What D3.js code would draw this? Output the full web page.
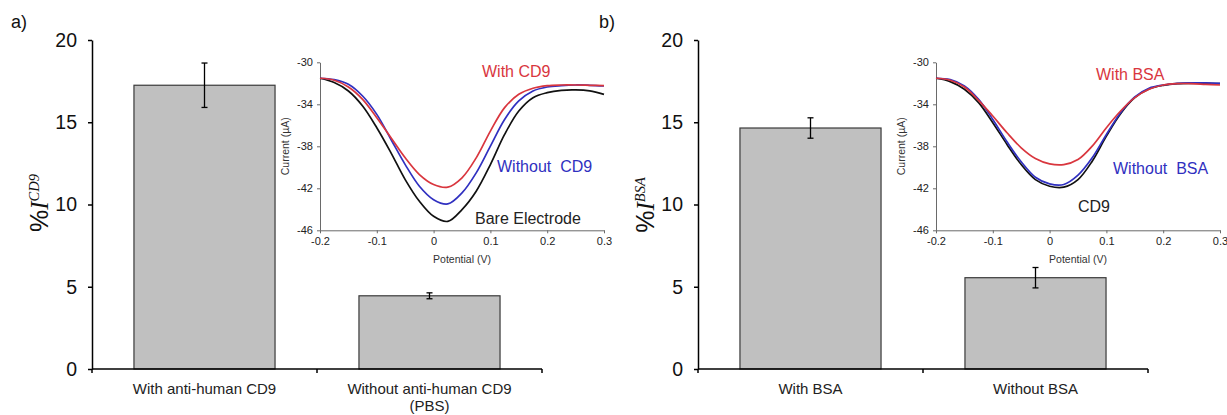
<!DOCTYPE html>
<html><head><meta charset="utf-8">
<script src="https://cdn.jsdelivr.net/npm/d3@7"></script>
<style>
body{margin:0;background:#fff}
svg{display:block}
</style></head><body>
<svg id="c" width="1227" height="415" font-family="Arial, 'Liberation Sans', sans-serif"></svg>
<script>
// ---------- data ----------
const potential   = [-0.2,-0.175,-0.15,-0.125,-0.1,-0.075,-0.05,-0.025,0,0.025,0.05,0.075,0.1,0.125,0.15,0.175,0.2,0.225,0.25,0.275,0.3];
// panel a inset (current, uA)
const bareElectrode = [-31.52,-31.93,-32.73,-34.16,-36.23,-38.62,-41.17,-43.24,-44.67,-45.15,-44.03,-42.28,-39.74,-36.87,-34.64,-33.37,-32.89,-32.67,-32.63,-32.73,-33.05];
const withCD9       = [-31.52,-31.71,-32.35,-33.53,-35.28,-37.19,-39.10,-40.69,-41.64,-41.89,-41.00,-39.10,-36.55,-34.32,-33.05,-32.47,-32.22,-32.16,-32.16,-32.19,-32.22];
const withoutCD9    = [-31.52,-31.65,-32.09,-33.21,-34.96,-37.35,-39.74,-41.80,-43.08,-43.49,-42.44,-40.53,-37.98,-35.44,-33.68,-32.73,-32.35,-32.22,-32.16,-32.19,-32.25];
// panel b inset
const cd9Only       = [-31.52,-31.84,-32.57,-33.84,-35.75,-37.82,-39.74,-41.17,-41.80,-41.89,-41.17,-39.42,-37.03,-34.89,-33.37,-32.54,-32.19,-32.03,-32.00,-32.00,-32.03];
const withBSA       = [-31.52,-31.71,-32.35,-33.62,-35.12,-36.71,-38.14,-39.16,-39.67,-39.74,-39.26,-37.98,-36.23,-34.64,-33.37,-32.57,-32.16,-32.03,-32.03,-32.10,-32.16];
const withoutBSA    = [-31.52,-31.65,-32.25,-33.53,-35.44,-37.57,-39.48,-40.95,-41.58,-41.64,-40.75,-39.10,-36.87,-34.80,-33.30,-32.47,-32.16,-32.00,-31.96,-31.96,-32.00];

const barCategoriesA = ["With anti-human CD9", "Without anti-human CD9\n(PBS)"];
const barValuesA = [17.25, 4.45];
const barErrorsA = [1.35, 0.18];
const barCategoriesB = ["With BSA", "Without BSA"];
const barValuesB = [14.65, 5.55];
const barErrorsB = [0.62, 0.62];
const barTicks = [0, 5, 10, 15, 20];
const insetYTicks = [-30, -34, -38, -42, -46];
const insetXTicks = [-0.2, -0.1, 0, 0.1, 0.2, 0.3];

// ---------- drawing ----------
const SANS = "Arial, 'Liberation Sans', sans-serif";
const SERIF = "'Liberation Serif', 'Times New Roman', serif";
const svg = d3.select("#c");
svg.append("rect").attr("width",1227).attr("height",415).attr("fill","#fff");

const RED = "#d9363e", BLUE = "#3030c0", BLACK = "#111";

function drawBars(o){
  const g = svg.append("g");
  const y = d3.scaleLinear().domain([0,20]).range([369,40]);
  const x = d3.scaleBand().domain(o.cats).range([o.x0, o.x0+450]).padding(0);
  const bw = x.bandwidth()*0.627;
  g.selectAll("rect.bar").data(o.cats).join("rect")
    .attr("x", c => x(c) + (x.bandwidth()-bw)/2)
    .attr("y", (c,i) => y(o.vals[i]))
    .attr("width", bw)
    .attr("height", (c,i) => y(0)-y(o.vals[i]))
    .attr("fill","#c0c0c0").attr("stroke","#3a3a3a").attr("stroke-width",1.2);
  o.cats.forEach((c,i)=>{
    const cx = x(c)+x.bandwidth()/2;
    const t = y(o.vals[i]+o.errs[i]), b = y(o.vals[i]-o.errs[i]);
    g.append("line").attr("x1",cx).attr("x2",cx).attr("y1",t).attr("y2",b).attr("stroke","#000").attr("stroke-width",1.3);
    [t,b].forEach(v=>g.append("line").attr("x1",cx-3).attr("x2",cx+3).attr("y1",v).attr("y2",v).attr("stroke","#000").attr("stroke-width",1.3));
  });
  const ya = g.append("g").attr("transform",`translate(${o.x0},0)`)
    .call(d3.axisLeft(y).tickValues(barTicks).tickSize(4).tickSizeOuter(0).tickPadding(11).tickFormat(d3.format("d")));
  ya.select(".domain").attr("stroke","#000").attr("stroke-width",1.5);
  ya.selectAll(".tick line").attr("stroke","#000").attr("stroke-width",1.5);
  ya.selectAll("text").attr("font-size",19.5).attr("fill","#111").attr("font-family",SANS);
  g.append("line").attr("x1",o.x0).attr("x2",o.x0+450).attr("y1",y(0)).attr("y2",y(0)).attr("stroke","#000").attr("stroke-width",1.6);
  const bounds = o.cats.map(c=>x(c)).concat([x(o.cats[o.cats.length-1])+x.bandwidth()]);
  bounds.forEach(b=>g.append("line").attr("x1",b).attr("x2",b).attr("y1",y(0)).attr("y2",y(0)+4).attr("stroke","#000").attr("stroke-width",1.5));
  o.cats.forEach(c=>{
    const t = g.append("text").attr("x",x(c)+x.bandwidth()/2).attr("y",393.5)
      .attr("text-anchor","middle").attr("font-size",15).attr("fill","#222");
    c.split("\n").forEach((line,k)=>t.append("tspan").attr("x",x(c)+x.bandwidth()/2).attr("dy",k?"1.15em":0).text(line));
  });
  const yl = g.append("text").attr("transform",`translate(${o.labX},${o.labY}) rotate(-90)`)
    .attr("text-anchor","middle").attr("fill","#111");
  yl.append("tspan").attr("font-size",25).style("font-family",SANS).text("%");
  yl.append("tspan").attr("font-size",25).attr("font-style","italic").style("font-family",SERIF).text("I");
  yl.append("tspan").attr("font-size",14.5).attr("dy",-9).attr("font-style","italic").style("font-family",SERIF).text(o.sup);
  g.append("text").attr("x",o.letX).attr("y",28).attr("font-size",18).attr("fill","#111").text(o.letter);
}

function drawInset(o){
  const g = svg.append("g");
  const x = d3.scaleLinear().domain([-0.2,0.3]).range([o.x0, o.x0+284]);
  const y = d3.scaleLinear().domain([-46,-30]).range([230.3, 62.3]);
  const fmt = d => (d===0 ? "0" : String(d).replace("\u2212","-"));
  const xa = g.append("g").attr("transform",`translate(0,${y(-46)})`)
    .call(d3.axisBottom(x).tickValues(insetXTicks).tickSize(3).tickSizeOuter(0).tickPadding(4).tickFormat(fmt));
  const yaxis = g.append("g").attr("transform",`translate(${o.x0},0)`)
    .call(d3.axisLeft(y).tickValues(insetYTicks).tickSize(3).tickSizeOuter(0).tickPadding(4).tickFormat(fmt));
  [xa,yaxis].forEach(a=>{
    a.select(".domain").attr("stroke","#6a6a6a").attr("stroke-width",1);
    a.selectAll(".tick line").attr("stroke","#6a6a6a");
    a.selectAll("text").attr("font-size",11).attr("fill","#222").attr("font-family",SANS);
  });
  g.append("text").attr("x",x(0.05)).attr("y",262.5).attr("text-anchor","middle").attr("font-size",10.5).attr("fill","#333").text("Potential (V)");
  g.append("text").attr("transform",`translate(${o.x0-31},${y(-38)}) rotate(-90)`).attr("text-anchor","middle").attr("font-size",10.5).attr("fill","#333").text("Current (\u00b5A)");
  const line = d3.line().x((d,i)=>x(potential[i])).y(d=>y(d)).curve(d3.curveCatmullRom.alpha(0.5));
  o.series.forEach(s=>{
    g.append("path").attr("d",line(s.data)).attr("fill","none").attr("stroke",s.color).attr("stroke-width",1.7);
  });
  o.labels.forEach(l=>{
    g.append("text").attr("x",l.x).attr("y",l.y).attr("font-size",16).attr("fill",l.color)
      .style("white-space","pre").text(l.t);
  });
}

drawBars({x0:92, cats:barCategoriesA, vals:barValuesA, errs:barErrorsA, sup:"CD9", labX:48, labY:203, letter:"a)", letX:11});
drawBars({x0:698, cats:barCategoriesB, vals:barValuesB, errs:barErrorsB, sup:"BSA", labX:654, labY:205, letter:"b)", letX:599});

drawInset({x0:320,
  series:[{data:bareElectrode,color:BLACK},{data:withoutCD9,color:BLUE},{data:withCD9,color:RED}],
  labels:[{t:"With CD9",x:482,y:77,color:RED},{t:"Without  CD9",x:497,y:172,color:BLUE},{t:"Bare Electrode",x:475,y:224,color:"#222"}]});
drawInset({x0:936,
  series:[{data:cd9Only,color:BLACK},{data:withoutBSA,color:BLUE},{data:withBSA,color:RED}],
  labels:[{t:"With BSA",x:1096,y:80,color:RED},{t:"Without  BSA",x:1113,y:174,color:BLUE},{t:"CD9",x:1078,y:212,color:"#222"}]});
</script>
</body></html>
